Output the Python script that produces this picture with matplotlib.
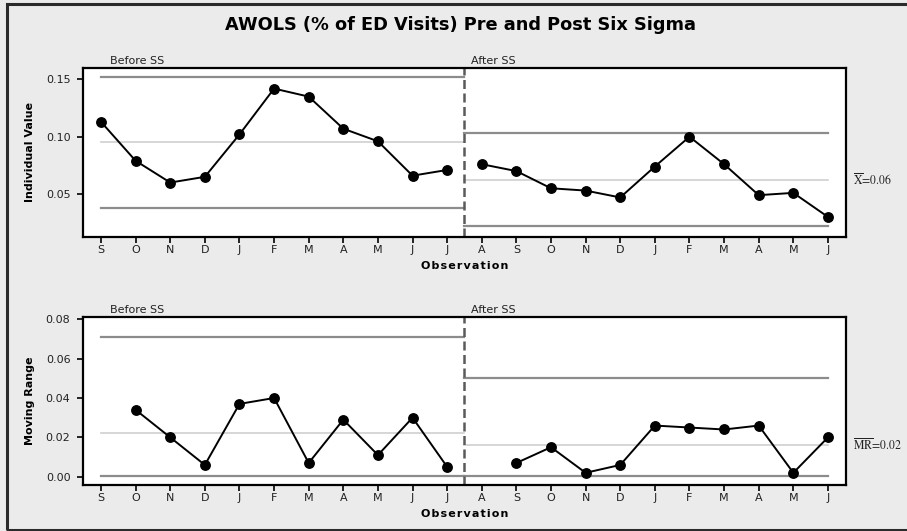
import numpy as np
import matplotlib.pyplot as plt
from matplotlib.patches import Rectangle
from matplotlib.transforms import blended_transform_factory

plt.rcParams['mathtext.fontset'] = 'stix'

# Monatsbeschriftung der Beobachtungen (vor / nach Six Sigma)
months_before = ['S', 'O', 'N', 'D', 'J', 'F', 'M', 'A', 'M', 'J', 'J']
months_after = ['A', 'S', 'O', 'N', 'D', 'J', 'F', 'M', 'A', 'M', 'J']

# Einzelwerte (Anteil der ED-Besuche)
ind_before = [0.113, 0.079, 0.060, 0.065, 0.102, 0.142, 0.135, 0.107, 0.096, 0.066, 0.071]
ind_after = [0.076, 0.070, 0.055, 0.053, 0.047, 0.074, 0.100, 0.076, 0.049, 0.051, 0.030]
ind_center = [0.095, 0.062]
ind_ucl = [0.152, 0.103]
ind_lcl = [0.038, 0.022]

# Moving Range (erster Wert jeder Phase fehlt)
mr_before = [np.nan, 0.034, 0.020, 0.006, 0.037, 0.040, 0.007, 0.029, 0.011, 0.030, 0.005]
mr_after = [np.nan, 0.007, 0.015, 0.002, 0.006, 0.026, 0.025, 0.024, 0.026, 0.002, 0.020]
mr_center = [0.022, 0.016]
mr_ucl = [0.071, 0.050]
mr_lcl = [0.0005, 0.0005]

labels = months_before + months_after
n_b = len(months_before)
x_b = np.arange(n_b)
x_a = np.arange(n_b, n_b + len(months_after))
split = n_b - 0.5

fig = plt.figure(figsize=(9.07, 5.31), dpi=100)
fig.patch.set_facecolor('#ebebeb')
fig.patches.append(Rectangle((7 / 907, 1.5 / 531), 1.0, 1 - 5 / 531,
                             transform=fig.transFigure, fill=False,
                             edgecolor='#2a2a2a', linewidth=2.2, zorder=10))

ax1 = fig.add_axes([0.0915, 0.5537, 0.8412, 0.3183])
ax2 = fig.add_axes([0.0915, 0.0866, 0.8412, 0.3170])

hs = '\u200a'
obs_label = hs.join('Observation')


def draw_panel(ax, yb, ya, center, ucl, lcl, ylim, yticks, ylabel, right_text):
    ax.set_facecolor('white')
    segs = [(0, split), (split, x_a[-1])]
    for i, (x0, x1) in enumerate(segs):
        ax.plot([x0, x1], [center[i], center[i]], color='#d0d0d0', lw=1.2, zorder=1)
        ax.plot([x0, x1], [ucl[i], ucl[i]], color='#8c8c8c', lw=1.6, zorder=1)
        ax.plot([x0, x1], [lcl[i], lcl[i]], color='#8c8c8c', lw=1.6, zorder=1)
    ax.axvline(split, color='#5a5a5a', lw=1.8, ls=(0, (3.6, 1.8)), zorder=2)
    ax.plot(x_b, yb, color='black', lw=1.4, marker='o', ms=6.8, zorder=3)
    ax.plot(x_a, ya, color='black', lw=1.4, marker='o', ms=6.8, zorder=3)

    ax.set_xlim(-0.52, x_a[-1] + 0.52)
    ax.set_ylim(*ylim)
    ax.set_yticks(yticks)
    ax.set_yticklabels([f'{v:.2f}' for v in yticks])
    ax.set_xticks(np.arange(len(labels)))
    ax.set_xticklabels(labels)
    ax.tick_params(axis='both', direction='out', length=4, width=1.4,
                   labelsize=8, colors='#222222')
    ax.tick_params(axis='x', pad=2)
    ax.tick_params(axis='y', pad=5)
    for s in ax.spines.values():
        s.set_linewidth(1.6)
        s.set_color('black')

    ax.set_xlabel(obs_label, fontsize=8, fontweight='bold', labelpad=4)
    ax.set_ylabel(ylabel, fontsize=8, fontweight='bold', labelpad=8)

    tr = ax.get_xaxis_transform()
    ax.text(0.25, 1.012, 'Before SS', transform=tr, fontsize=8, va='bottom', color='#222222')
    ax.text(split + 0.2, 1.012, 'After SS', transform=tr, fontsize=8, va='bottom', color='#222222')

    tr2 = blended_transform_factory(ax.transAxes, ax.transData)
    ax.text(1.009, center[1], right_text, transform=tr2, fontsize=8.5,
            va='center', ha='left', family='STIXGeneral', color='#222222')


draw_panel(ax1, ind_before, ind_after, ind_center, ind_ucl, ind_lcl,
           (0.0125, 0.160), [0.05, 0.10, 0.15], 'Individual Value',
           r'$\overline{\mathrm{X}}$=0.06')
draw_panel(ax2, mr_before, mr_after, mr_center, mr_ucl, mr_lcl,
           (-0.0042, 0.0813), [0.00, 0.02, 0.04, 0.06, 0.08], 'Moving Range',
           r'$\overline{\mathrm{MR}}$=0.02')

fig.text(0.508, 0.953, 'AWOLS (% of ED Visits) Pre and Post Six Sigma',
         ha='center', va='center', fontsize=12.8, fontweight='bold')

fig.savefig('out.png', dpi=100, facecolor=fig.get_facecolor())
